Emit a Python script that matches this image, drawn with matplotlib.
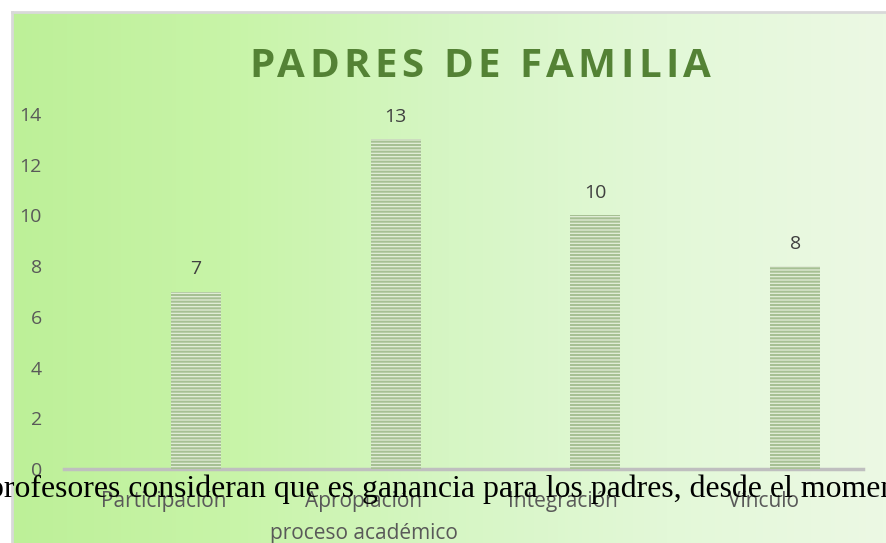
import numpy as np
import matplotlib
matplotlib.use("Agg")
import matplotlib.pyplot as plt
from matplotlib.colors import LinearSegmentedColormap
from matplotlib.font_manager import FontProperties

categories = ["Participación", "Apropiación\nproceso académico", "Integración", "Vínculo"]
values = [7, 13, 10, 8]
yticks = [0, 2, 4, 6, 8, 10, 12, 14]
title = "PADRES DE FAMILIA"
overlay = "profesores consideran que es ganancia para los padres, desde el momento"

W, H = 886, 543
fig = plt.figure(figsize=(W / 100, H / 100), dpi=100)
fig.patch.set_facecolor("white")

# gradient background of the chart area
bg = fig.add_axes([12 / W, 0, 1 - 12 / W, 1 - 12 / H])
cmap = LinearSegmentedColormap.from_list(
    "bg", ["#bdf098", "#c8f4a8", "#d6f6c4", "#e3f8d8", "#ecf9e4"])
bg.imshow(np.linspace(0, 1, 256)[None, :], cmap=cmap, aspect="auto",
          extent=[0, 1, 0, 1])
bg.set_xlim(0, 1)
bg.set_ylim(0, 1)
bg.axis("off")
# thin gray border at top and left
fig.add_artist(plt.Line2D([12 / W, 1], [1 - 12 / H, 1 - 12 / H],
                          color="#d9d9d9", lw=2, transform=fig.transFigure))
fig.add_artist(plt.Line2D([12 / W, 12 / W], [0, 1 - 12 / H],
                          color="#d9d9d9", lw=2, transform=fig.transFigure))

ax = fig.add_axes([64 / W, 1 - 469 / H, 799 / W, (469 - 114) / H])
ax.patch.set_alpha(0)

x = np.arange(len(categories))
width = 0.25
offset = 0.16
bars = ax.bar(x + offset, values, width, color="#e3eeda", edgecolor="none", zorder=2)
plt.rcParams["hatch.linewidth"] = 1.5
ax.bar(x + offset, values, width, color="none", edgecolor="#a6c093",
       linewidth=0, hatch="-----", zorder=3)

for rect, v in zip(bars, values):
    ax.annotate(str(v), xy=(rect.get_x() + rect.get_width() / 2, v),
                xytext=(0, 12.5), textcoords="offset points",
                ha="center", va="baseline", fontsize=14, color="#404040",
                family="Open Sans")

ax.set_xlim(-0.5, len(categories) - 0.5)
ax.set_ylim(0, 14)
ax.set_yticks(yticks)
ax.set_xticks(x)
ax.set_xticklabels(categories, fontsize=15, color="#595959", family="Open Sans",
                   linespacing=1.68)
for lab in ax.get_yticklabels():
    lab.set_fontsize(14)
    lab.set_color("#595959")
    lab.set_family("Open Sans")
ax.tick_params(axis="both", length=0)
ax.tick_params(axis="y", pad=16)
ax.tick_params(axis="x", pad=16)

for s in ["top", "right", "left"]:
    ax.spines[s].set_visible(False)
ax.spines["bottom"].set_color("#bfbfbf")
ax.spines["bottom"].set_linewidth(2.5)

# letter-spaced title, placed one character at a time
tprop = FontProperties(family="Open Sans", weight="bold", size=29)
renderer = fig.canvas.get_renderer()


def text_width(s):
    t = fig.text(0, 0, s, fontproperties=tprop)
    w = t.get_window_extent(renderer).width
    t.remove()
    return w


track = 4.5
total = text_width(title) + track * (len(title) - 1)
start = 480 - total / 2
for i, ch in enumerate(title):
    if ch == " ":
        continue
    left = start + text_width(title[:i + 1]) - text_width(ch) + i * track
    fig.text(left / W, 1 - 77 / H, ch, ha="left", va="baseline",
             fontproperties=tprop, color="#548235")

fig.text(-12 / W, 1 - 497 / H, overlay, ha="left", va="baseline",
         fontsize=22.9, color="black", family="Liberation Serif")

fig.savefig("out.png", dpi=100)
